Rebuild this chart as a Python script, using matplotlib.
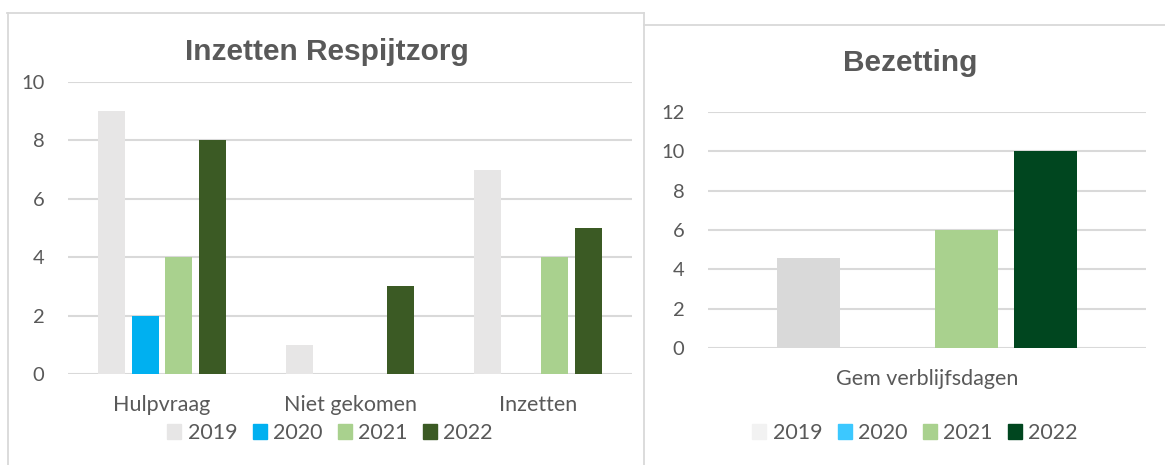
import matplotlib.pyplot as plt
from matplotlib.patches import Patch
from matplotlib.lines import Line2D
import numpy as np

# data
years = ["2019", "2020", "2021", "2022"]
cats_left = ["Hulpvraag", "Niet gekomen", "Inzetten"]
vals_left = {
    "2019": [9, 1, 7],
    "2020": [2, 0, 0],
    "2021": [4, 0, 4],
    "2022": [8, 3, 5],
}
cats_right = ["Gem verblijfsdagen"]
vals_right = {
    "2019": [4.6],
    "2020": [0],
    "2021": [6],
    "2022": [10],
}

colors_left = ["#E7E6E6", "#00B0F0", "#A9D18E", "#3B5A24"]
colors_right = ["#D9D9D9", "#3CC8FF", "#A9D18E", "#00461F"]
legend_right = ["#F2F2F2", "#3CC8FF", "#A9D18E", "#00461F"]

TXT = "#595959"
GRID = "#D9D9D9"
W, H = 1165, 465
plt.rcParams['font.family'] = ['Lato', 'DejaVu Sans']

fig = plt.figure(figsize=(W / 100, H / 100), dpi=100)


def px_axes(x0, y0, x1, y1):
    # pixel box (top-left origin) -> figure axes
    return fig.add_axes([x0 / W, 1 - y1 / H, (x1 - x0) / W, (y1 - y0) / H])


# panel borders
fig.add_artist(Line2D([7 / W, 644 / W], [1 - 13.5 / H, 1 - 13.5 / H], color=GRID, lw=1.3))
fig.add_artist(Line2D([7.5 / W, 7.5 / W], [1 - 13 / H, 0], color=GRID, lw=1.3))
fig.add_artist(Line2D([644 / W, 644 / W], [1 - 13 / H, 0], color=GRID, lw=1.3))
fig.add_artist(Line2D([644 / W, 1], [1 - 25 / H, 1 - 25 / H], color=GRID, lw=1.3))


def bar_panel(ax, cats, vals, colors, ymax, step):
    x = np.arange(len(cats))
    width = 0.144
    off = 0.18
    for i, y in enumerate(years):
        ax.bar(x + (i - 1.5) * off, vals[y], width, color=colors[i], zorder=3)
    ax.set_xlim(-0.5, len(cats) - 0.5)
    ax.set_ylim(0, ymax)
    ax.set_yticks(np.arange(0, ymax + 1, step))
    ax.set_xticks(x)
    ax.set_xticklabels(cats)
    ax.yaxis.grid(True, color=GRID, lw=1.5, zorder=0)
    ax.set_axisbelow(True)
    for s in ax.spines.values():
        s.set_visible(False)
    ax.tick_params(axis="y", length=0, pad=17, labelsize=14.5, labelcolor=TXT)
    ax.tick_params(axis="x", length=0, pad=15, labelsize=15.5, labelcolor=TXT)


ax1 = px_axes(68, 82, 632, 374)
bar_panel(ax1, cats_left, vals_left, colors_left, 10, 2)
fig.text(327 / W, 1 - 52 / H, "Inzetten Respijtzorg", ha="center", va="center",
         fontsize=21.5, fontweight="bold", color=TXT, family="Liberation Sans")
h1 = [Patch(color=c, label=y) for c, y in zip(colors_left, years)]
fig.legend(handles=h1, loc="center", bbox_to_anchor=(330 / W, 1 - 433 / H), ncol=4,
           frameon=False, fontsize=15.5, handlelength=0.65, handleheight=0.65,
           handletextpad=0.3, columnspacing=0.7, labelcolor=TXT)

ax2 = px_axes(708, 112, 1146, 348)
bar_panel(ax2, cats_right, vals_right, colors_right, 12, 2)
fig.text(910 / W, 1 - 63 / H, "Bezetting", ha="center", va="center",
         fontsize=21.5, fontweight="bold", color=TXT, family="Liberation Sans")
h2 = [Patch(color=c, label=y) for c, y in zip(legend_right, years)]
fig.legend(handles=h2, loc="center", bbox_to_anchor=(915 / W, 1 - 433 / H), ncol=4,
           frameon=False, fontsize=15.5, handlelength=0.65, handleheight=0.65,
           handletextpad=0.3, columnspacing=0.7, labelcolor=TXT)

fig.savefig("out.png", dpi=100)
